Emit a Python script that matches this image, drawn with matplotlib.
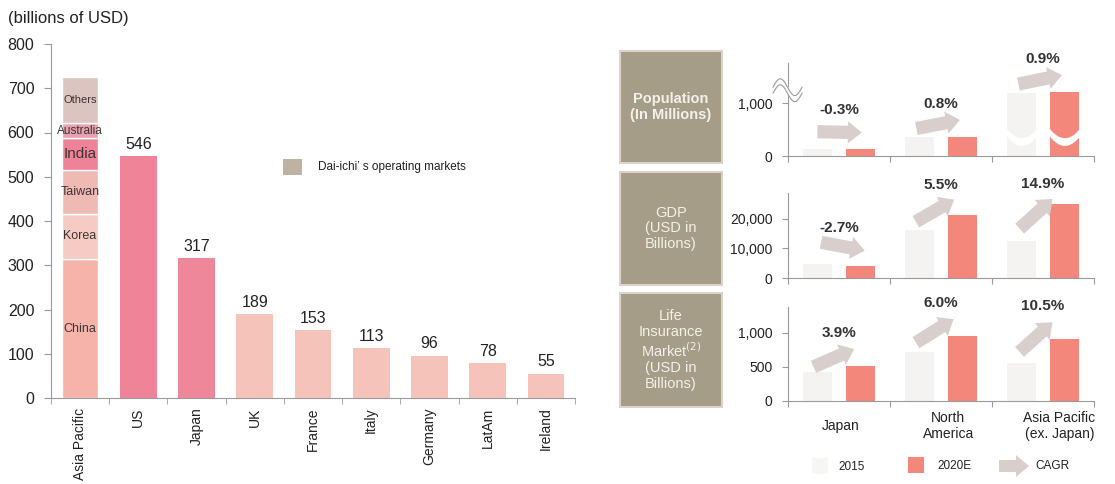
import numpy as np
import matplotlib.pyplot as plt
from matplotlib.patches import Rectangle, FancyArrow
from matplotlib.ticker import FuncFormatter

plt.rcParams['font.family'] = ['Liberation Sans', 'DejaVu Sans']

# ---- left chart: life insurance premiums by market (billions of USD)
markets = ["Asia Pacific", "US", "Japan", "UK", "France", "Italy", "Germany", "LatAm", "Ireland"]
market_values = [None, 546, 317, 189, 153, 113, 96, 78, 55]
ap_segments = ["China", "Korea", "Taiwan", "India", "Australia", "Others"]
ap_values = [314, 102, 99, 73, 33, 104]

# ---- right panels: 2015 vs 2020E with CAGR
regions = ["Japan", "North\nAmerica", "Asia Pacific\n(ex. Japan)"]
pop_2015 = [127, 350, 1180]
pop_2020 = [125, 365, 1210]
pop_cagr = [-0.3, 0.8, 0.9]
gdp_2015 = [4700, 16300, 12400]
gdp_2020 = [4100, 21400, 25000]
gdp_cagr = [-2.7, 5.5, 14.9]
life_2015 = [430, 715, 555]
life_2020 = [515, 955, 910]
life_cagr = [3.9, 6.0, 10.5]

W, H = 1115, 484
fig = plt.figure(figsize=(W / 100, H / 100), dpi=100)


def fx(px):
    return px / W


def fy(py):
    return 1 - py / H


grey = "#9a9a9a"
txt = "#222222"

# ================= left chart =================
ax = fig.add_axes([fx(51), fy(398), fx(524), 354 / H])
bw = 0.63
seg_colors = ["#f6b3a9", "#f6cbc4", "#efbab4", "#ee8397", "#e9a2ad", "#dcc5c1"]
seg_sizes = [9, 9, 9, 11, 8.5, 8]
bottom = 0
for name, v, c, fs in zip(ap_segments, ap_values, seg_colors, seg_sizes):
    ax.bar(0, v, bw, bottom=bottom, color=c, edgecolor="white", linewidth=1)
    ax.text(0, bottom + v / 2, name, ha="center", va="center", fontsize=fs, color="#3d3434")
    bottom += v

bar_colors = ["#ef8499", "#ee879a"] + ["#f6c3bb"] * 6
xs = np.arange(1, len(markets))
ax.bar(xs, market_values[1:], bw, color=bar_colors, linewidth=0)
for x, v in zip(xs, market_values[1:]):
    ax.annotate(str(v), (x, v), xytext=(0, 3), textcoords="offset points",
                ha="center", va="bottom", fontsize=11.5, color=txt)

ax.set_xlim(-0.46, 8.5)
ax.set_ylim(0, 800)
ax.set_yticks(range(0, 801, 100))
ax.set_xticks(range(len(markets)))
ax.set_xticklabels(markets, rotation=90, fontsize=10, color=txt)
ax.set_xticks(np.arange(-0.5, 8.6, 1), minor=True)
ax.tick_params(axis="x", which="major", length=0, pad=7)
ax.tick_params(axis="x", which="minor", length=4, color=grey, direction="out")
ax.tick_params(axis="y", length=5, color=grey, labelsize=11.5, labelcolor=txt, pad=7)
for s in ["top", "right"]:
    ax.spines[s].set_visible(False)
for s in ["left", "bottom"]:
    ax.spines[s].set_color(grey)
    ax.spines[s].set_linewidth(0.8)

fig.text(fx(8), fy(18), "(billions of USD)", fontsize=12, color=txt, va="center")
fig.patches.append(Rectangle((fx(283), fy(175)), fx(19), 16 / H, transform=fig.transFigure,
                             facecolor="#bfb2a3", edgecolor="none"))
fig.text(fx(318), fy(167), "Dai-ichi’ s operating markets", fontsize=8.5, color=txt, va="center")

# ================= right panels =================
box_color = "#a69d88"
boxes = [(51, 163, "Population\n(In Millions)", "bold"),
         (172, 285, "GDP\n(USD in\nBillions)", "normal"),
         (293, 407, "Life\nInsurance\nMarket$^{(2)}$\n(USD in\nBillions)", "normal")]
for top, bot, label, weight in boxes:
    fig.patches.append(Rectangle((fx(620), fy(bot)), fx(102), (bot - top) / H,
                                 transform=fig.transFigure, facecolor=box_color,
                                 edgecolor="#d9d3c9", linewidth=1.5))
    fig.text(fx(671), fy((top + bot) / 2), label, ha="center", va="center",
             fontsize=10.5, color="#f4f0ea", weight=weight, linespacing=1.15)

panels = [
    (pop_2015, pop_2020, pop_cagr, 156, 63, 1755, [0, 1000]),
    (gdp_2015, gdp_2020, gdp_cagr, 278, 193, 28800, [0, 10000, 20000]),
    (life_2015, life_2020, life_cagr, 401, 307, 1382, [0, 500, 1000]),
]
faint = "#f5f3f1"
salmon = "#f4877b"
arrow_c = "#d8cfcc"
groups = np.arange(3)
off, w = 0.21, 0.28
axes = []
for v15, v20, cagr, pb, pt, ymax, ticks in panels:
    a = fig.add_axes([fx(788), fy(pb), fx(306), (pb - pt) / H])
    axes.append(a)
    a.bar(groups - off, v15, w, color=faint, linewidth=0)
    a.bar(groups + off, v20, w, color=salmon, linewidth=0)
    a.set_xlim(-0.5, 2.5)
    a.set_ylim(0, ymax)
    a.set_yticks(ticks)
    a.yaxis.set_major_formatter(FuncFormatter(lambda v, p: f"{int(v):,}"))
    a.set_xticks([-0.5, 0.5, 1.5, 2.5])
    a.set_xticklabels([])
    a.tick_params(axis="x", length=4, color=grey)
    a.tick_params(axis="y", length=4, color=grey, labelsize=10, labelcolor=txt, pad=7)
    for s in ["top", "right"]:
        a.spines[s].set_visible(False)
    for s in ["left", "bottom"]:
        a.spines[s].set_color(grey)
        a.spines[s].set_linewidth(0.8)

    # CAGR arrows and labels
    for g, c, h in zip(groups, cagr, v20):
        ang = min(8 + 4 * c, 42) if c > 0 else 4 * c
        hx = g + 0.22 - 0.003 * ang
        hy = min(h / ymax + 0.18, 0.93)
        L = 32
        dx, dy = L * np.cos(np.radians(ang)), L * np.sin(np.radians(ang))
        a.annotate("", xy=(hx, hy), xycoords=("data", "axes fraction"),
                   xytext=(-dx, -dy), textcoords="offset points",
                   arrowprops=dict(arrowstyle="simple,head_length=1.0,head_width=1.6,tail_width=0.95",
                                   mutation_scale=10, fc=arrow_c, ec="none",
                                   shrinkA=0, shrinkB=0),
                   annotation_clip=False)
        top_frac = max(hy, hy - dy * 1.39 / ((pb - pt)))
        ly = max(top_frac + 0.17, 0.5)
        a.text(g, ly, f"{c:.1f}%", transform=a.get_xaxis_transform(), ha="center",
               va="center", fontsize=11, weight="bold", color="#333333")

# population axis break on the Asia Pacific bars
pa = axes[0]
for xc in [2 - off, 2 + off]:
    xb = np.linspace(xc - w / 2 - 0.01, xc + w / 2 + 0.01, 60)
    t = (xb - xc) / (w / 2)
    pa.fill_between(xb, 200 + 160 * t ** 2, 346 + 157 * t ** 2, color="white", zorder=3, linewidth=0)
u = np.linspace(0, 1, 60)
wx = -0.049 + 0.095 * u
wy = 0.74 + 0.09 * np.sin(2 * np.pi * u)
pa.fill_between(wx, wy - 0.065, wy, color="white", transform=pa.transAxes, clip_on=False, zorder=5)
pa.plot(wx, wy, color=grey, lw=0.8, transform=pa.transAxes, clip_on=False, zorder=6)
pa.plot(wx, wy - 0.065, color=grey, lw=0.8, transform=pa.transAxes, clip_on=False, zorder=6)

# region labels under the bottom panel
la = axes[2]
label_dx = [0.02, 0.07, 0.16]
for g, r, d in zip(groups, regions, label_dx):
    la.text(g + d, -0.27, r, transform=la.get_xaxis_transform(), ha="center", va="center",
            fontsize=10, color=txt, linespacing=1.2)

# legend at the bottom right
fig.patches.append(Rectangle((fx(812), fy(474)), fx(16), 16 / H, transform=fig.transFigure,
                             facecolor="#f7f6f4", edgecolor="none"))
fig.text(fx(852), fy(467), "2015", ha="center", va="center", fontsize=8.5, color=txt)
fig.patches.append(Rectangle((fx(908), fy(473)), fx(16), 16 / H, transform=fig.transFigure,
                             facecolor=salmon, edgecolor="none"))
fig.text(fx(955), fy(466), "2020E", ha="center", va="center", fontsize=8.5, color=txt)
fig.patches.append(FancyArrow(fx(999), fy(466), fx(30), 0, width=12 / H, head_width=22 / H,
                              head_length=fx(13), length_includes_head=True,
                              transform=fig.transFigure, color=arrow_c, linewidth=0))
fig.text(fx(1052), fy(466), "CAGR", ha="center", va="center", fontsize=8.5, color=txt)

fig.savefig("out.png", dpi=100)
